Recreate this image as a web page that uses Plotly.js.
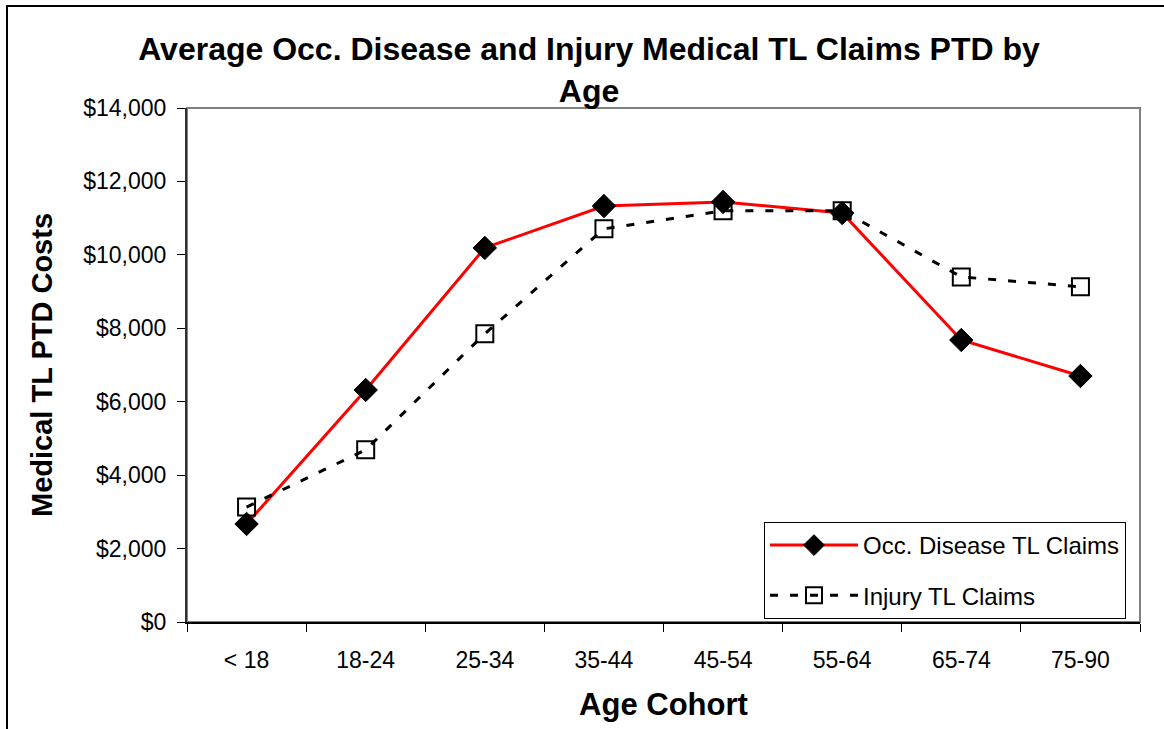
<!DOCTYPE html>
<html>
<head>
<meta charset="utf-8">
<script src="https://cdn.plot.ly/plotly-3.0.1.min.js"></script>
<style>html,body{margin:0;padding:0;background:#fff;}#chart{width:1164px;height:729px;}</style>
</head>
<body>
<div id="chart"></div>
<script>
var categories = ["< 18", "18-24", "25-34", "35-44", "45-54", "55-64", "65-74", "75-90"];
var occDisease = [2670, 6320, 10190, 11330, 11440, 11140, 7680, 6700];
var injury = [3130, 4690, 7850, 10710, 11200, 11200, 9400, 9130];
var yTicks = [0, 2000, 4000, 6000, 8000, 10000, 12000, 14000];
var yTickLabels = ["$0", "$2,000", "$4,000", "$6,000", "$8,000", "$10,000", "$12,000", "$14,000"];

var W = 1164, H = 729;
var L = 187, R = 1140, T = 108, B = 622;
var pw = R - L, ph = B - T;
function px(x){ return (x - L) / pw; }
function py(y){ return (B - y) / ph; }

var font = "Liberation Sans, Arial, sans-serif";

var traces = [
  {
    x: categories, y: occDisease, name: "Occ. Disease TL Claims",
    type: "scatter", mode: "lines+markers", legendgroup: "a",
    line: {color: "#ff0000", width: 3},
    marker: {symbol: "diamond", size: 18, color: "#000000", line: {color: "#000000", width: 1}}
  },
  {
    x: categories, y: injury, name: "Injury TL Claims",
    type: "scatter", mode: "lines+markers", legendgroup: "b",
    line: {color: "#000000", width: 3, dash: "8px,12px"},
    marker: {symbol: "square-open", size: 17, color: "#000000", line: {color: "#000000", width: 2}}
  }
];

var layout = {
  width: W, height: H,
  margin: {l: L, r: W - R, t: T, b: H - B, pad: 0},
  paper_bgcolor: "#ffffff", plot_bgcolor: "#ffffff",
  showlegend: true,
  font: {family: font, color: "#000000"},
  title: {
    text: "<b>Average Occ. Disease and Injury Medical TL Claims PTD by<br>Age</b>",
    font: {family: font, size: 32, color: "#000000"},
    x: 589 / W, xanchor: "center",
    y: 1 - 60 / H, yanchor: "top"
  },
  xaxis: {
    type: "category",
    range: [-0.5, 7.5],
    tickson: "boundaries",
    ticks: "outside", ticklen: 8, tickcolor: "#000000", tickwidth: 1,
    showline: true, linecolor: "#000000", linewidth: 2,
    showgrid: false, zeroline: false,
    ticklabelstandoff: 16,
    tickfont: {family: font, size: 23, color: "#000000"},
    title: {text: "<b>Age Cohort</b>", font: {family: font, size: 31, color: "#000000"}, standoff: 22}
  },
  yaxis: {
    range: [0, 14000],
    tickvals: yTicks, ticktext: yTickLabels,
    ticks: "outside", ticklen: 8, tickcolor: "#000000", tickwidth: 1,
    showline: true, linecolor: "#333333", linewidth: 2,
    showgrid: false, zeroline: false,
    ticklabelstandoff: 6,
    tickfont: {family: font, size: 23, color: "#000000"},
    title: {text: "<b>Medical TL PTD Costs</b>", font: {family: font, size: 29, color: "#000000"}, standoff: 22}
  },
  legend: {
    x: px(764), y: py(522), xanchor: "left", yanchor: "top",
    bgcolor: "#ffffff", bordercolor: "#000000", borderwidth: 1,
    font: {family: font, size: 24, color: "#000000"},
    tracegroupgap: 16, itemwidth: 88
  },
  shapes: [
    {type: "rect", xref: "paper", yref: "paper", x0: 0, x1: 1, y0: 0, y1: 1,
     line: {color: "#808080", width: 2}, layer: "below"},
    {type: "rect", xref: "paper", yref: "paper", x0: px(7), x1: px(1175), y0: py(6), y1: py(740),
     line: {color: "#000000", width: 2}, layer: "below"}
  ]
};

Plotly.newPlot("chart", traces, layout, {displayModeBar: false, staticPlot: true});
</script>
</body>
</html>
